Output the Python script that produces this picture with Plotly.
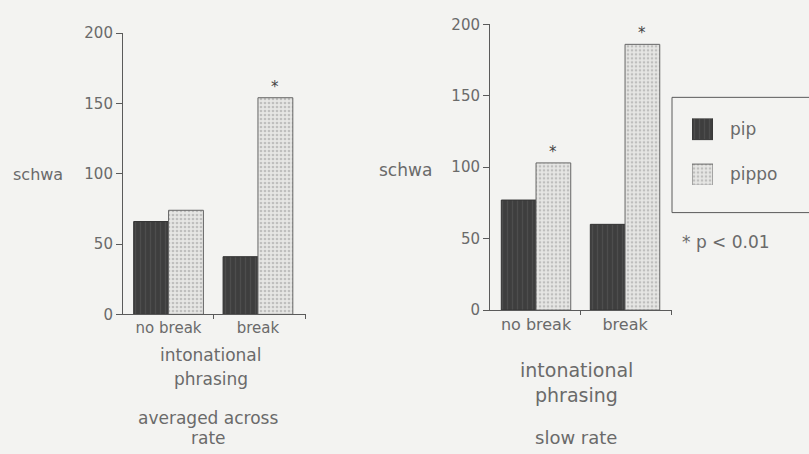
import plotly.graph_objects as go

# Schwa counts by intonational phrasing, two rate conditions
categories = ["no break", "break"]
series_names = ["pip", "pippo"]

avg_pip = [66, 41]
avg_pippo = [74, 154]
avg_sig = [False, True]      # pippo significant vs pip (p < 0.01)

slow_pip = [77, 60]
slow_pippo = [103, 186]
slow_sig = [True, True]

y_ticks = [0, 50, 100, 150, 200]

INK = "#5a5a5a"
TXT = "#6a6a6a"
FONT = "DejaVu Sans"
BG = "#f3f3f1"

dark_marker = dict(color="#3e3e3e", line=dict(color="#333333", width=1),
                   pattern=dict(shape="|", fgcolor="#5c5c5c", size=5,
                                solidity=0.25, fillmode="overlay"))
light_marker = dict(color="#e6e6e4", line=dict(color="#666666", width=1),
                    pattern=dict(shape=".", fgcolor="#959595", size=4,
                                 solidity=0.35, fillmode="overlay"))

xs = list(range(len(categories)))
BAR_W = 0.39

fig = go.Figure()

panels = [
    ("x", "y", avg_pip, avg_pippo, avg_sig),
    ("x2", "y2", slow_pip, slow_pippo, slow_sig),
]
for xa, ya, v_pip, v_pippo, sig in panels:
    fig.add_trace(go.Bar(x=xs, y=v_pip, name=series_names[0], width=BAR_W,
                         offset=-BAR_W, marker=dark_marker, xaxis=xa, yaxis=ya,
                         showlegend=False))
    fig.add_trace(go.Bar(x=xs, y=v_pippo, name=series_names[1], width=BAR_W,
                         offset=0, marker=light_marker, xaxis=xa, yaxis=ya,
                         showlegend=False))
    for xi, val, s in zip(xs, v_pippo, sig):
        if s:
            fig.add_annotation(x=xi + BAR_W / 2, y=val, xref=xa, yref=ya,
                               text="*", showarrow=False, yshift=11,
                               font=dict(family=FONT, size=15, color="#444"))

# Legend swatches drawn as bars on a hidden axis so they carry the patterns
fig.add_trace(go.Bar(x=[1], y=[0], orientation="h", width=0.463,
                     marker=dark_marker, xaxis="x3", yaxis="y3", showlegend=False))
fig.add_trace(go.Bar(x=[1], y=[1], orientation="h", width=0.463,
                     marker=light_marker, xaxis="x3", yaxis="y3", showlegend=False))

def xaxis_style(domain, rng, size, anchor):
    return dict(domain=domain, range=rng, tickmode="array", tickvals=xs,
                ticktext=categories, ticks="", showline=True, linecolor=INK,
                linewidth=1, showgrid=False, zeroline=False,
                tickfont=dict(family=FONT, size=size, color=TXT),
                minor=dict(tickmode="array", tickvals=[0.5, rng[1] - 0.001],
                           ticks="outside", ticklen=4, tickcolor=INK),
                anchor=anchor)

def yaxis_style(domain, size, anchor):
    return dict(domain=domain, range=[0, 200], tickmode="array", tickvals=y_ticks,
                ticks="outside", ticklen=6, tickcolor=INK, showline=True,
                linecolor=INK, linewidth=1, showgrid=False, zeroline=False,
                tickfont=dict(family=FONT, size=size, color=TXT), anchor=anchor)

fig.update_layout(
    width=809, height=454, autosize=False,
    margin=dict(l=0, r=0, t=0, b=0),
    paper_bgcolor=BG, plot_bgcolor="rgba(0,0,0,0)",
    barmode="overlay",
    xaxis=xaxis_style([0.1520, 0.3782], [-0.51, 1.537], 15, "y"),
    yaxis=yaxis_style([0.2996, 0.9449], 15, "x"),
    xaxis2=xaxis_style([0.6057, 0.8307], [-0.517, 1.528], 16, "y2"),
    yaxis2=yaxis_style([0.3095, 0.9648], 15, "x2"),
    xaxis3=dict(domain=[692 / 809, 713 / 809], range=[0, 1], visible=False,
                anchor="y3"),
    yaxis3=dict(domain=[1 - 183 / 454, 1 - 114 / 454], range=[1.221, -0.2316],
                visible=False, anchor="x3"),
)

def px(x, y):
    return x / 809, 1 - y / 454

def label(text, x, y, size, anchor="center"):
    xx, yy = px(x, y)
    fig.add_annotation(x=xx, y=yy, xref="paper", yref="paper", text=text,
                       showarrow=False, xanchor=anchor, yanchor="middle",
                       font=dict(family=FONT, size=size, color=TXT))

# Axis and panel titles
label("schwa", 38, 172, 16)
label("schwa", 406, 168, 17)
label("intonational", 211, 360, 17)
label("phrasing", 211, 385, 17)
label("averaged across", 208, 426, 17)
label("rate", 208, 447, 17)
label("intonational", 576, 376, 19)
label("phrasing", 576, 402, 19)
label("slow rate", 576, 446, 18)

# Legend box and entries
x0, y1 = px(672, 92)
x1, y0 = px(812, 212)
fig.add_shape(type="rect", xref="paper", yref="paper", x0=x0, x1=x1, y0=y0, y1=y1,
              line=dict(color=INK, width=1), fillcolor="rgba(0,0,0,0)")
label(series_names[0], 728, 125, 17, "left")
label(series_names[1], 728, 172, 17, "left")
label("* p < 0.01", 680, 243, 17, "left")

fig.write_html("out.html")
